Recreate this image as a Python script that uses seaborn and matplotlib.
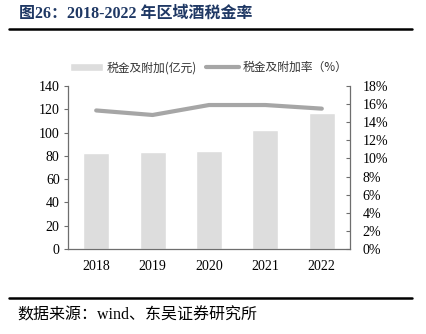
import matplotlib
matplotlib.use("Agg")
import matplotlib.pyplot as plt
import seaborn as sns
import pandas as pd
from matplotlib.ticker import FixedLocator, PercentFormatter

years = ["2018", "2019", "2020", "2021", "2022"]
tax_amount = [82.3, 83.4, 84.3, 102.3, 116.8]      # 税金及附加(亿元)
tax_rate = [15.3, 14.8, 15.9, 15.9, 15.5]          # 税金及附加率（%）
left_ticks = [0, 20, 40, 60, 80, 100, 120, 140]
right_ticks = [0, 2, 4, 6, 8, 10, 12, 14, 16, 18]

title_text = "图26：2018-2022 年区域酒税金率"
source_text = "数据来源：wind、东吴证券研究所"
bar_label = "税金及附加(亿元)"
line_label = "税金及附加率（%）"

df = pd.DataFrame({"year": years, "amount": tax_amount, "rate": tax_rate})

sns.set_theme(style="white")
plt.rcParams["font.family"] = ["Liberation Serif", "Noto Sans CJK SC", "DejaVu Sans"]
plt.rcParams["axes.unicode_minus"] = False

fig = plt.figure(figsize=(4.26, 3.34), dpi=100)
ax = fig.add_axes([0.1596, 0.2545, 0.662, 0.488])

sns.barplot(data=df, x="year", y="amount", order=years, color="#DDDDDD",
            saturation=1, width=0.46, ax=ax, label=bar_label)
ax2 = ax.twinx()
sns.pointplot(data=df, x="year", y="rate", order=years, color="#A6A6A6",
              markers="", linestyles="-", linewidth=3.0, ax=ax2, label=line_label)

ax.set_xlim(-0.5, len(years) - 0.5)
ax.set_ylim(0, 140)
ax2.set_ylim(0, 18)
ax.yaxis.set_major_locator(FixedLocator(left_ticks))
ax2.yaxis.set_major_locator(FixedLocator(right_ticks))
ax2.yaxis.set_major_formatter(PercentFormatter(decimals=0))

ax.set_xlabel("")
ax.set_ylabel("")
ax2.set_xlabel("")
ax2.set_ylabel("")

spine_c = "#6E6E6E"
for a in (ax, ax2):
    for s in a.spines.values():
        s.set_visible(False)
ax.spines["left"].set_visible(True)
ax.spines["bottom"].set_visible(True)
ax2.spines["right"].set_visible(True)
for s in (ax.spines["left"], ax.spines["bottom"], ax2.spines["right"]):
    s.set_color(spine_c)
    s.set_linewidth(0.9)

ax.tick_params(axis="y", which="major", direction="out", length=3, width=0.8,
               color=spine_c, labelsize=10, pad=3, labelcolor="black")
ax2.tick_params(axis="y", which="major", direction="in", length=3, width=0.8,
                color=spine_c, labelsize=10, pad=9, labelcolor="black")
ax.tick_params(axis="x", which="major", length=0, labelsize=10, pad=8, labelcolor="black")
ax.set_xticks([i + 0.5 for i in range(len(years) - 1)], minor=True)
ax.tick_params(axis="x", which="minor", direction="in", length=3, width=0.8, color=spine_c)
ax.grid(False)
ax2.grid(False)

h1, l1 = ax.get_legend_handles_labels()
h2, l2 = ax2.get_legend_handles_labels()
if ax2.get_legend() is not None:
    ax2.get_legend().remove()
if ax.get_legend() is not None:
    ax.get_legend().remove()
leg = fig.legend(h1 + h2, l1 + l2, loc="center", bbox_to_anchor=(0.49, 0.797),
                 ncol=2, frameon=False, handlelength=2.8,
                 handleheight=0.6, columnspacing=0.8, handletextpad=0.3,
                 prop={"family": ["Noto Sans CJK SC"], "size": 8.5})
for t in leg.get_texts():
    t.set_color("#333333")

fig.text(0.045, 0.958, title_text, fontsize=11.5, fontweight="bold",
         color="#1F3864", va="center", ha="left",
         family=["Liberation Serif", "Noto Sans CJK SC"])
fig.add_artist(plt.Line2D([0.021, 0.967], [0.913, 0.913], color="black", lw=1.8,
                          transform=fig.transFigure))
fig.add_artist(plt.Line2D([0.021, 0.967], [0.108, 0.108], color="black", lw=1.8,
                          transform=fig.transFigure))
fig.text(0.04, 0.056, source_text, fontsize=11.5, color="black", va="center", ha="left",
         family=["Liberation Serif", "Noto Sans CJK SC"])

fig.savefig("out.png", dpi=100)
